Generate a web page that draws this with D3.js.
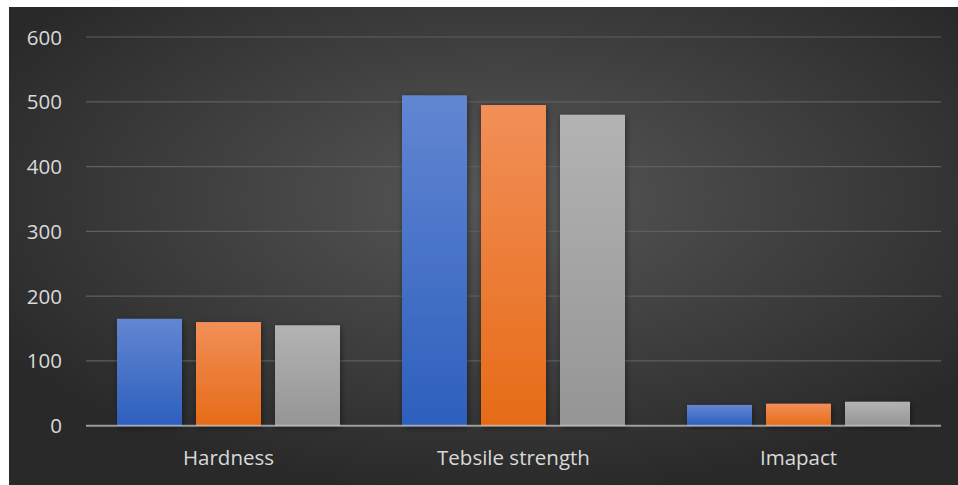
<!DOCTYPE html>
<html><head><meta charset="utf-8">
<script src="https://cdn.jsdelivr.net/npm/d3@7"></script>
<style>html,body{margin:0;padding:0;background:#fff;}svg{display:block;}</style>
</head><body>
<script>
const categories = ["Hardness", "Tebsile strength", "Imapact"];
const series1 = [165, 510, 32];
const series2 = [160, 495, 34];
const series3 = [155, 480, 37];
const yTicks = [0, 100, 200, 300, 400, 500, 600];

(function(){
const W = 958, H = 485;
const svg = d3.select("body").append("svg").attr("width", W).attr("height", H);
const defs = svg.append("defs");

const bg = defs.append("radialGradient").attr("id","bg").attr("cx","52%").attr("cy","40%").attr("r","62%");
bg.append("stop").attr("offset","0%").attr("stop-color","#575757");
bg.append("stop").attr("offset","100%").attr("stop-color","#292929");

function lin(id, t, b){
  const g = defs.append("linearGradient").attr("id",id).attr("x1",0).attr("y1",0).attr("x2",0).attr("y2",1);
  g.append("stop").attr("offset","0%").attr("stop-color",t);
  g.append("stop").attr("offset","100%").attr("stop-color",b);
}
lin("g0","#6286d2","#2d5fbd");
lin("g1","#f28f58","#e66b17");
lin("g2","#b3b3b3","#959595");

const sh = defs.append("filter").attr("id","sh").attr("x","-20%").attr("y","-20%").attr("width","140%").attr("height","140%");
sh.append("feGaussianBlur").attr("in","SourceAlpha").attr("stdDeviation",3);
sh.append("feOffset").attr("dx",1).attr("dy",2).attr("result","b");
sh.append("feComponentTransfer").append("feFuncA").attr("type","linear").attr("slope",0.45);
const mg = sh.append("feMerge"); mg.append("feMergeNode"); mg.append("feMergeNode").attr("in","SourceGraphic");

svg.append("rect").attr("x",9).attr("y",7).attr("width",W-9).attr("height",H-7).attr("fill","url(#bg)");

const pL = 86, pR = 941, pT = 37, pB = 425.7;
const x = d3.scaleBand().domain(categories).range([pL,pR]);
const y = d3.scaleLinear().domain([0,600]).range([pB, pT]);
const seriesAll = [series1, series2, series3];
const xs = d3.scaleBand().domain([0,1,2]).range([0, 223]).paddingInner(14/79);

svg.append("g").selectAll("line").data(yTicks.filter(d=>d>0)).join("line")
  .attr("x1",pL).attr("x2",pR)
  .attr("y1",d=>y(d)).attr("y2",d=>y(d))
  .attr("stroke","#5f5f5f").attr("stroke-width",1.2);

const fam = "'Open Sans', 'Liberation Sans', sans-serif";
svg.append("g").selectAll("text").data(yTicks).join("text")
  .attr("x",62).attr("y",d=>y(d)+7.5)
  .attr("text-anchor","end").attr("font-family",fam).attr("font-size",20.5)
  .attr("fill","#d9d9d9").text(d=>d);

const bars = svg.append("g");
seriesAll.forEach((s,i)=>{
  bars.append("g").selectAll("rect").data(s).join("rect")
    .attr("x",(d,j)=>x(categories[j]) + x.bandwidth()/2 - 111.5 + xs(i))
    .attr("width", xs.bandwidth())
    .attr("y", d=>y(d)).attr("height", d=>pB - y(d))
    .attr("fill",`url(#g${i})`).attr("filter","url(#sh)");
});

svg.append("line").attr("x1",pL).attr("x2",pR).attr("y1",pB).attr("y2",pB)
  .attr("stroke","#d9d9d9").attr("stroke-opacity",0.65).attr("stroke-width",2);

svg.append("g").selectAll("text").data(categories).join("text")
  .attr("x",d=>x(d)+x.bandwidth()/2).attr("y",464.5)
  .attr("text-anchor","middle").attr("font-family",fam).attr("font-size",20.5)
  .attr("fill","#d9d9d9").text(d=>d);
})();
</script>
</body></html>
